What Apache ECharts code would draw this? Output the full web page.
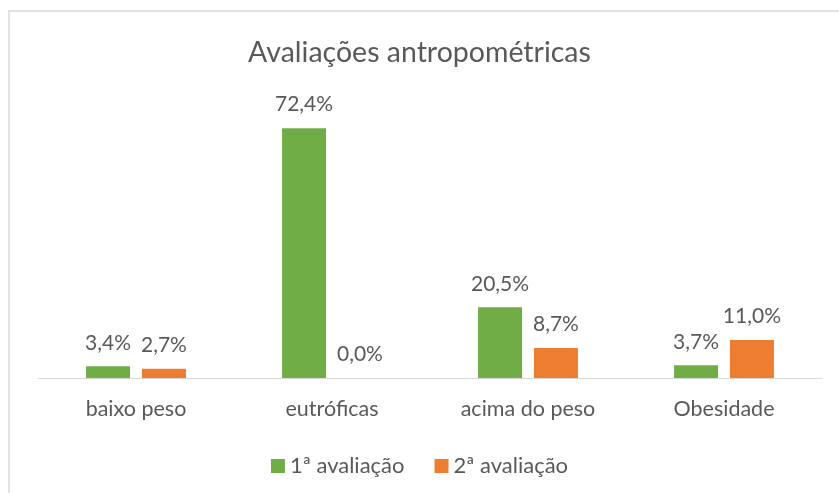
<!DOCTYPE HTML>
<html>
<head>
  <meta charset="utf-8" />
  <title>Avaliações antropométricas</title>
  <style>
    html, body { margin: 0; padding: 0; background: #fff; }
    #main { width: 839px; height: 493px; }
  </style>
</head>
<body>
  <div id="main"></div>
  <script src="https://cdn.jsdelivr.net/npm/echarts@6/dist/echarts.min.js"></script>
  <script type="text/javascript">
    var categorias = ['baixo peso', 'eutróficas', 'acima do peso', 'Obesidade'];
    var avaliacao1 = [3.4, 72.4, 20.5, 3.7];
    var avaliacao2 = [2.7, 0.0, 8.7, 11.0];
    var nomesSeries = ['1ª avaliação', '2ª avaliação'];

    var fonte = 'Lato, "Open Sans", sans-serif';
    var cinza = '#595959';

    var chart = echarts.init(document.getElementById('main'));

    function rotulo(p) {
      return p.value.toFixed(1).replace('.', ',') + '%';
    }

    chart.setOption({
      animation: false,
      backgroundColor: '#fff',
      graphic: [{
        type: 'rect',
        shape: { x: 9, y: 11, width: 900, height: 600 },
        style: { fill: 'none', stroke: '#d9d9d9', lineWidth: 1.5 },
        silent: true
      }],
      title: {
        text: 'Avaliações antropométricas',
        left: 'center',
        top: 33,
        textStyle: { fontFamily: fonte, fontSize: 28.5, fontWeight: 'normal', color: cinza }
      },
      legend: {
        data: nomesSeries,
        left: 'center',
        top: 450,
        itemWidth: 14,
        itemHeight: 14,
        itemGap: 30,
        icon: 'rect',
        textStyle: { fontFamily: fonte, fontSize: 22, color: cinza }
      },
      grid: { left: 38, right: 17, top: 102, height: 276 },
      xAxis: {
        type: 'category',
        data: categorias,
        axisLine: { lineStyle: { color: '#d9d9d9', width: 1 } },
        axisTick: { show: false },
        axisLabel: { fontFamily: fonte, fontSize: 21.5, color: cinza, margin: 20 }
      },
      yAxis: {
        type: 'value',
        min: 0,
        max: 80,
        show: false,
        splitLine: { show: false }
      },
      series: [
        {
          name: nomesSeries[0],
          type: 'bar',
          data: avaliacao1,
          barWidth: 44,
          barGap: '27%',
          itemStyle: { color: '#70AD47' },
          label: { show: true, position: 'top', distance: 13, formatter: rotulo,
                   fontFamily: fonte, fontSize: 21, color: cinza }
        },
        {
          name: nomesSeries[1],
          type: 'bar',
          data: avaliacao2,
          barWidth: 44,
          itemStyle: { color: '#ED7D31' },
          label: { show: true, position: 'top', distance: 13, formatter: rotulo,
                   fontFamily: fonte, fontSize: 21, color: cinza }
        }
      ]
    });
  </script>
</body>
</html>
